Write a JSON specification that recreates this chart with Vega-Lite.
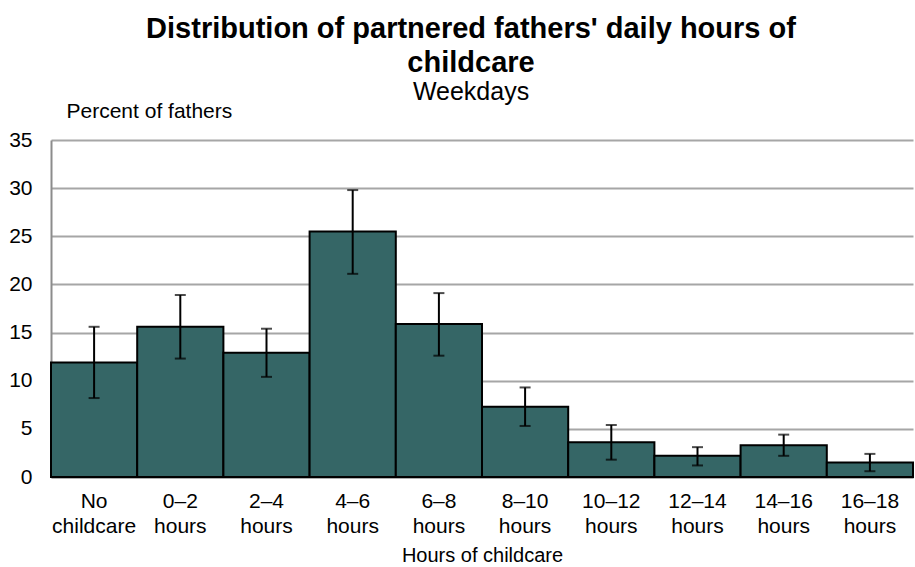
{
  "$schema": "https://vega.github.io/schema/vega-lite/v6.json",
  "width": 862,
  "height": 337,
  "autosize": "none",
  "padding": {"left": 51, "top": 140, "right": 2, "bottom": 90},
  "background": "white",
  "config": {
    "font": "Liberation Sans",
    "view": {"stroke": null}
  },
  "title": {
    "text": ["Distribution of partnered fathers' daily hours of", "childcare"],
    "subtitle": "Weekdays",
    "font": "Liberation Sans",
    "fontSize": 29,
    "fontWeight": "bold",
    "lineHeight": 34,
    "color": "black",
    "subtitleFont": "Liberation Sans",
    "subtitleFontSize": 25,
    "subtitleColor": "black",
    "subtitlePadding": 2,
    "anchor": "middle",
    "dx": -11,
    "offset": -5
  },
  "data": {
    "values": [
      {"cat": "No childcare", "pct": 11.9, "lo": 8.2, "hi": 15.6},
      {"cat": "0–2 hours", "pct": 15.6, "lo": 12.3, "hi": 18.9},
      {"cat": "2–4 hours", "pct": 12.9, "lo": 10.4, "hi": 15.4},
      {"cat": "4–6 hours", "pct": 25.5, "lo": 21.1, "hi": 29.8},
      {"cat": "6–8 hours", "pct": 15.9, "lo": 12.6, "hi": 19.1},
      {"cat": "8–10 hours", "pct": 7.3, "lo": 5.3, "hi": 9.3},
      {"cat": "10–12 hours", "pct": 3.6, "lo": 1.8, "hi": 5.4},
      {"cat": "12–14 hours", "pct": 2.2, "lo": 1.2, "hi": 3.1},
      {"cat": "14–16 hours", "pct": 3.3, "lo": 2.2, "hi": 4.4},
      {"cat": "16–18 hours", "pct": 1.5, "lo": 0.6, "hi": 2.4}
    ]
  },
  "encoding": {
    "x": {
      "field": "cat",
      "type": "nominal",
      "sort": null,
      "scale": {"paddingInner": 0, "paddingOuter": 0},
      "axis": {
        "title": "Hours of childcare",
        "titleFontSize": 20,
        "titleFontWeight": "normal",
        "titleColor": "black",
        "titlePadding": 9,
        "labelAngle": 0,
        "labelFontSize": 21,
        "labelColor": "black",
        "labelLineHeight": 25,
        "labelPadding": 13,
        "labelExpr": "split(datum.label, ' ')",
        "ticks": false,
        "domainColor": "#8c8c8c",
        "domainWidth": 2
      }
    }
  },
  "layer": [
    {
      "mark": {"type": "bar", "fill": "#356666", "stroke": "black", "strokeWidth": 2},
      "encoding": {
        "y": {
          "field": "pct",
          "type": "quantitative",
          "scale": {"domain": [0, 35], "nice": false},
          "axis": {
            "values": [0, 5, 10, 15, 20, 25, 30, 35],
            "title": "Percent of fathers",
            "titleAngle": 0,
            "titleX": 15,
            "titleY": -23,
            "titleAlign": "left",
            "titleBaseline": "alphabetic",
            "titleFontSize": 21,
            "titleFontWeight": "normal",
            "titleColor": "black",
            "labelFontSize": 21,
            "labelColor": "black",
            "labelPadding": 19,
            "ticks": false,
            "grid": true,
            "gridColor": "#a6a6a6",
            "gridWidth": 2,
            "domainColor": "#8c8c8c",
            "domainWidth": 2
          }
        }
      }
    },
    {
      "mark": {"type": "rule", "color": "black", "strokeWidth": 2},
      "encoding": {
        "y": {"field": "lo", "type": "quantitative"},
        "y2": {"field": "hi"}
      }
    },
    {
      "mark": {"type": "tick", "color": "black", "thickness": 2, "size": 11},
      "encoding": {
        "y": {"field": "lo", "type": "quantitative"}
      }
    },
    {
      "mark": {"type": "tick", "color": "black", "thickness": 2, "size": 11},
      "encoding": {
        "y": {"field": "hi", "type": "quantitative"}
      }
    }
  ]
}
